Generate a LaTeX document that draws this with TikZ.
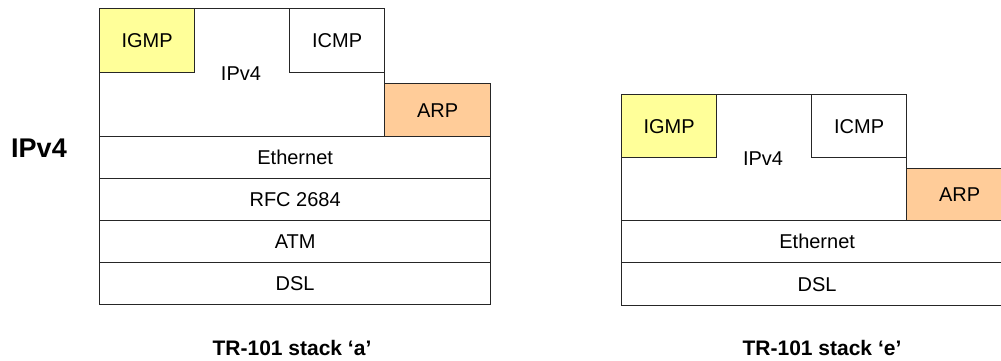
\documentclass[tikz,border=0pt]{standalone}
\usepackage{fontspec}
\setmainfont{Liberation Sans}
\usepackage{tikz}

\definecolor{igmpyellow}{HTML}{FFFF99}
\definecolor{arporange}{HTML}{FFCC99}

\begin{document}
\begin{tikzpicture}[x=0.5pt,y=-0.5pt]
    \tikzset{layer/.style = {draw = black!85,
        line width  = 0.65pt,
        inner sep   = 0pt,
        anchor      = north west,
        font        = \fontsize{10}{12}\selectfont},
      txt/.style   = {font = \fontsize{10}{12}\selectfont},
      caption/.style = {font = \fontsize{10.5}{12}\selectfont\bfseries}}

    \def\u{0.5pt};
    \def\W{391};
    \def\H{42};

    \useasboundingbox (0,0) rectangle (1001,360);
    \clip (0,0) rectangle (1001,360);

    % Stack 'a'
    \node[layer, minimum width=285*\u, minimum height=128*\u] (ipA) at (99,8) {};
    \node[layer, fill=igmpyellow, minimum width=95*\u, minimum height=64*\u] (igmpA) at (99,8) {};
    \node[layer, minimum width=95*\u, minimum height=64*\u] (icmpA) at (289,8) {};
    \node[layer, fill=arporange, minimum width=106*\u, minimum height=53*\u] (arpA) at (384,83) {};
    \node[txt] (igmpAt) at (igmpA.center) {IGMP};
    \node[txt] (icmpAt) at (icmpA.center) {ICMP};
    \node[txt] (arpAt) at (arpA.center) {ARP};
    \node[txt] (ipAt) at (241,74) {IPv4};

    \node[layer, minimum width=\W*\u, minimum height=\H*\u] (ethA) at (99,136) {};
    \node[txt] at (ethA.center) (ethAt) {Ethernet};
    \node[layer, minimum width=\W*\u, minimum height=\H*\u] (rfcA) at (99,178) {};
    \node[txt] at (rfcA.center) (rfcAt) {RFC 2684};
    \node[layer, minimum width=\W*\u, minimum height=\H*\u] (atmA) at (99,220) {};
    \node[txt] at (atmA.center) (atmAt) {ATM};
    \node[layer, minimum width=\W*\u, minimum height=\H*\u] (dslA) at (99,262) {};
    \node[txt] at (dslA.center) (dslAt) {DSL};

    \node[font=\fontsize{13.5}{16}\selectfont\bfseries] (side) at (39,148) {IPv4};
    \node[caption] (capA) at (292,348) {TR-101 stack ‘a’};

    % Stack 'e'
    \node[layer, minimum width=285*\u, minimum height=126*\u] (ipE) at (621,94) {};
    \node[layer, fill=igmpyellow, minimum width=95*\u, minimum height=63*\u] (igmpE) at (621,94) {};
    \node[layer, minimum width=95*\u, minimum height=63*\u] (icmpE) at (811,94) {};
    \node[layer, fill=arporange, minimum width=106*\u, minimum height=52*\u] (arpE) at (906,168) {};
    \node[txt] (igmpEt) at (igmpE.center) {IGMP};
    \node[txt] (icmpEt) at (icmpE.center) {ICMP};
    \node[txt] (arpEt) at (arpE.center) {ARP};
    \node[txt] (ipEt) at (763,159) {IPv4};

    \node[layer, minimum width=\W*\u, minimum height=\H*\u] (ethE) at (621,220) {};
    \node[txt] at (ethE.center) (ethEt) {Ethernet};
    \node[layer, minimum width=\W*\u, minimum height=43*\u] (dslE) at (621,262) {};
    \node[txt] at (dslE.center) (dslEt) {DSL};

    \node[caption] (capE) at (822,348) {TR-101 stack ‘e’};
\end{tikzpicture}
\end{document}
